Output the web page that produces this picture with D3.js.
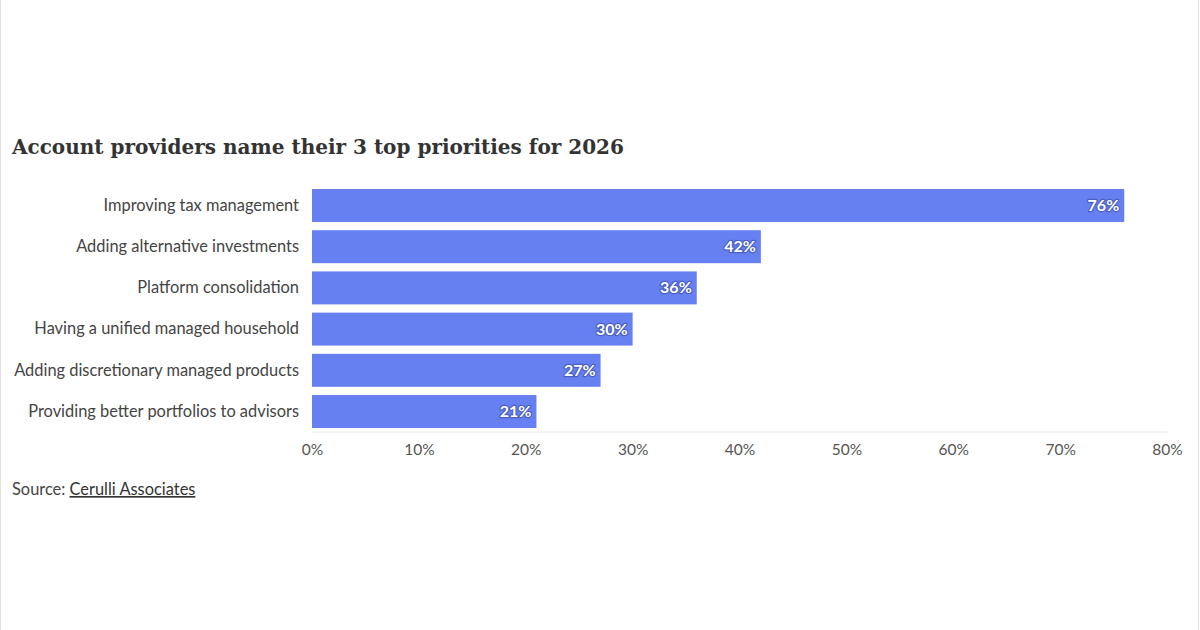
<!DOCTYPE html>
<html>
<head>
<meta charset="utf-8">
<script src="https://cdn.jsdelivr.net/npm/d3@7"></script>
<style>
  body { margin: 0; background: #fff; }
  #chart { width: 1200px; height: 630px; }
</style>
</head>
<body>
<div id="chart"></div>
<script>
// data
var categories = [
    "Improving tax management",
    "Adding alternative investments",
    "Platform consolidation",
    "Having a unified managed household",
    "Adding discretionary managed products",
    "Providing better portfolios to advisors"
];
var values = [76, 42, 36, 30, 27, 21];
var tickValues = [0, 10, 20, 30, 40, 50, 60, 70, 80];

(function () {
    var W = 1200, H = 630;
    var margin = { top: 189, left: 312, right: 33, bottom: 202 };

    var svg = d3.select("#chart")
        .append("svg")
        .attr("width", W)
        .attr("height", H);

    // frame lines at the page edges
    svg.append("line").attr("x1", 0.5).attr("x2", 0.5).attr("y1", 0).attr("y2", H)
        .attr("stroke", "#e2e2e2");
    svg.append("line").attr("x1", W - 1.5).attr("x2", W - 1.5).attr("y1", 0).attr("y2", H)
        .attr("stroke", "#e2e2e2");

    svg.append("text")
        .attr("x", 12)
        .attr("y", 154)
        .attr("font-family", "'DejaVu Serif', serif")
        .attr("font-weight", "bold")
        .attr("font-size", 20)
        .attr("fill", "#333")
        .text("Account providers name their 3 top priorities for 2026");

    var x = d3.scaleLinear()
        .domain([0, 80])
        .range([margin.left, W - margin.right]);

    var y = d3.scaleBand()
        .domain(categories)
        .range([margin.top, H - margin.bottom])
        .paddingInner(0.2)
        .paddingOuter(0);

    // x axis
    var xAxis = d3.axisBottom(x)
        .tickValues(tickValues)
        .tickSize(0)
        .tickPadding(12)
        .tickFormat(function (d) { return d + "%"; });

    var gx = svg.append("g")
        .attr("transform", "translate(0," + (H - margin.bottom + 3.5) + ")")
        .call(xAxis);
    gx.select(".domain").attr("stroke", "#e8e8e8");
    gx.selectAll("text")
        .attr("font-family", "Lato, sans-serif")
        .attr("font-size", 15.5)
        .attr("fill", "#555");

    // y axis labels
    var yAxis = d3.axisLeft(y).tickSize(0).tickPadding(13);
    var gy = svg.append("g")
        .attr("transform", "translate(" + margin.left + ",0)")
        .call(yAxis);
    gy.select(".domain").remove();
    gy.selectAll("text")
        .attr("font-family", "Lato, sans-serif")
        .attr("font-size", 16.4)
        .attr("fill", "#444");

    var rows = categories.map(function (c, i) { return { cat: c, val: values[i] }; });

    svg.selectAll(".bar")
        .data(rows)
        .enter().append("rect")
        .attr("class", "bar")
        .attr("x", x(0))
        .attr("y", function (d) { return y(d.cat); })
        .attr("width", function (d) { return x(d.val) - x(0); })
        .attr("height", y.bandwidth())
        .attr("fill", "#6680f2");

    svg.selectAll(".val")
        .data(rows)
        .enter().append("text")
        .attr("class", "val")
        .attr("x", function (d) { return x(d.val) - 5; })
        .attr("y", function (d) { return y(d.cat) + y.bandwidth() / 2; })
        .attr("dy", "0.35em")
        .attr("text-anchor", "end")
        .attr("font-family", "Lato, sans-serif")
        .attr("font-weight", "bold")
        .attr("font-size", 16)
        .attr("fill", "#fff")
        .attr("stroke", "#4b5fc4")
        .attr("stroke-width", 2.5)
        .attr("stroke-linejoin", "round")
        .attr("paint-order", "stroke")
        .text(function (d) { return d.val + "%"; });

    // source
    var src = svg.append("text")
        .attr("x", 12)
        .attr("y", 495)
        .attr("font-family", "Lato, sans-serif")
        .attr("font-size", 16.4)
        .attr("fill", "#444");
    src.append("tspan").text("Source: ");
    src.append("tspan").attr("text-decoration", "underline").attr("fill", "#333").text("Cerulli Associates");
})()
</script>
</body>
</html>
